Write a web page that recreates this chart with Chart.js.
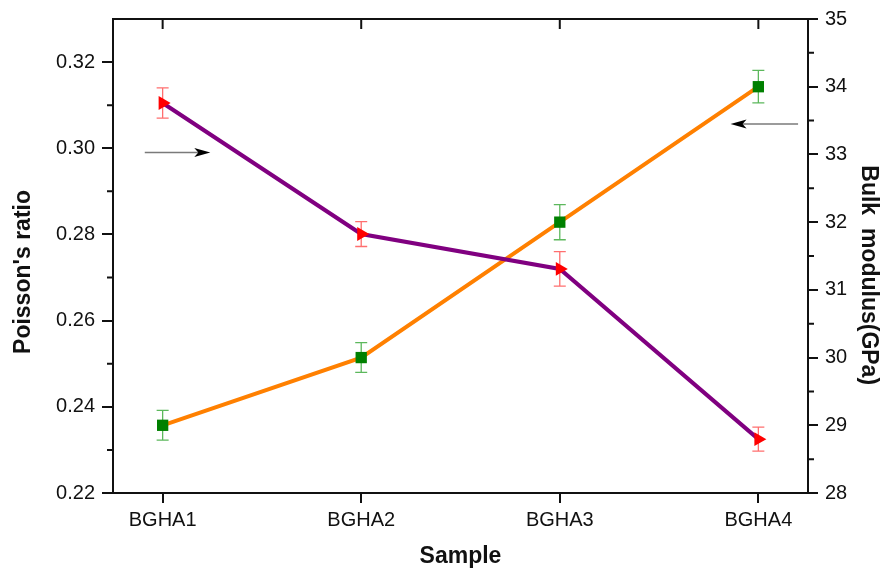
<!DOCTYPE html>
<html>
<head>
<meta charset="utf-8">
<script src="https://cdn.jsdelivr.net/npm/chart.js@4.4.1/dist/chart.umd.min.js"></script>
<style>
  html, body { margin: 0; padding: 0; background: #fff; }
  #c { display: block; }
</style>
</head>
<body>
<canvas id="c" width="890" height="571"></canvas>
<script>
// values
const samples = ['BGHA1', 'BGHA2', 'BGHA3', 'BGHA4'];
const poissonRatio = [0.3105, 0.2801, 0.2720, 0.2325];
const poissonErr = [0.0035, 0.0029, 0.0040, 0.0028];
const bulkModulus = [29.0, 30.0, 32.0, 34.0];
const bulkErr = [0.22, 0.22, 0.26, 0.24];
const poissonTicks = [0.22, 0.24, 0.26, 0.28, 0.30, 0.32];
const bulkTicks = [28, 29, 30, 31, 32, 33, 34, 35];

// the two arrows telling which curve goes with which axis
const arrowNotes = [
  { axis: 'y', value: 0.299, from: 0.91, to: 1.24 },
  { axis: 'y1', value: 33.45, from: 4.20, to: 3.86 }
];

const FONT = "'Liberation Sans', Arial, sans-serif";

function points(vals) {
  return vals.map((v, i) => ({ x: i + 1, y: v }));
}

const framePlugin = {
  id: 'frame',
  beforeDatasetsDraw(chart) {
    const ctx = chart.ctx;
    const x = chart.scales.x;
    // error bars sit under the markers
    const bars = [
      { axis: chart.scales.y, vals: poissonRatio, err: poissonErr, color: '#ff6f6f' },
      { axis: chart.scales.y1, vals: bulkModulus, err: bulkErr, color: '#5cb85c' }
    ];
    ctx.save();
    ctx.lineWidth = 1.3;
    bars.forEach(b => {
      ctx.strokeStyle = b.color;
      b.vals.forEach((v, i) => {
        const px = x.getPixelForValue(i + 1);
        const top = b.axis.getPixelForValue(v + b.err[i]);
        const bot = b.axis.getPixelForValue(v - b.err[i]);
        ctx.beginPath();
        ctx.moveTo(px, top); ctx.lineTo(px, bot);
        ctx.moveTo(px - 6, top); ctx.lineTo(px + 6, top);
        ctx.moveTo(px - 6, bot); ctx.lineTo(px + 6, bot);
        ctx.stroke();
      });
    });
    ctx.restore();
  },
  afterDraw(chart) {
    const ctx = chart.ctx;
    const a = chart.chartArea;
    const x = chart.scales.x, y = chart.scales.y, y1 = chart.scales.y1;
    ctx.save();
    ctx.strokeStyle = '#111';
    ctx.lineWidth = 2;
    ctx.strokeRect(a.left, a.top, a.right - a.left, a.bottom - a.top);

    ctx.beginPath();
    // minor ticks, halfway between labelled ones
    for (let i = 0; i < poissonTicks.length; i++) {
      const py = y.getPixelForValue(poissonTicks[i] + 0.01);
      if (py > a.top + 1) { ctx.moveTo(a.left - 6, py); ctx.lineTo(a.left, py); }
    }
    for (let i = 0; i < bulkTicks.length - 1; i++) {
      const py = y1.getPixelForValue(bulkTicks[i] + 0.5);
      ctx.moveTo(a.right, py); ctx.lineTo(a.right + 6, py);
    }
    // ticks on the top edge, pointing inward
    samples.forEach((s, i) => {
      const px = x.getPixelForValue(i + 1);
      ctx.moveTo(px, a.top); ctx.lineTo(px, a.top + 10);
    });
    ctx.stroke();

    // arrows
    arrowNotes.forEach(n => {
      const py = chart.scales[n.axis].getPixelForValue(n.value);
      const x0 = x.getPixelForValue(n.from);
      const x1 = x.getPixelForValue(n.to);
      const dir = x1 > x0 ? 1 : -1;
      ctx.strokeStyle = '#7a7a7a';
      ctx.lineWidth = 1.5;
      ctx.beginPath();
      ctx.moveTo(x0, py); ctx.lineTo(x1 - dir * 10, py);
      ctx.stroke();
      ctx.fillStyle = '#000';
      ctx.beginPath();
      ctx.moveTo(x1, py);
      ctx.lineTo(x1 - dir * 16, py - 4.5);
      ctx.lineTo(x1 - dir * 12, py);
      ctx.lineTo(x1 - dir * 16, py + 4.5);
      ctx.closePath();
      ctx.fill();
    });
    ctx.restore();
  }
};

const tickFont = { family: FONT, size: 20 };
const titleFont = { family: FONT, size: 23, weight: 'bold' };

new Chart(document.getElementById('c'), {
  type: 'line',
  data: {
    datasets: [
      {
        label: "Poisson's ratio",
        data: points(poissonRatio),
        yAxisID: 'y',
        borderColor: '#800080',
        borderWidth: 4,
        pointStyle: 'triangle',
        pointRotation: 90,
        pointRadius: 8,
        pointBackgroundColor: '#ff0000',
        pointBorderWidth: 0,
        tension: 0
      },
      {
        label: 'Bulk modulus',
        data: points(bulkModulus),
        yAxisID: 'y1',
        borderColor: '#ff8000',
        borderWidth: 4,
        pointStyle: 'rect',
        pointRadius: 8,
        pointBackgroundColor: '#008000',
        pointBorderWidth: 0,
        tension: 0
      }
    ]
  },
  options: {
    responsive: false,
    animation: false,
    devicePixelRatio: 1,
    layout: { padding: { top: 19, left: 0, right: 0, bottom: 0 } },
    plugins: { legend: { display: false }, tooltip: { enabled: false } },
    scales: {
      x: {
        type: 'linear',
        min: 0.75,
        max: 4.25,
        afterBuildTicks: s => { s.ticks = samples.map((n, i) => ({ value: i + 1 })); },
        afterFit: s => { s.height = 78; },
        ticks: {
          font: tickFont, color: '#111', padding: 5,
          callback: v => samples[v - 1]
        },
        grid: { drawOnChartArea: false, drawTicks: true, tickLength: 10, color: '#111', lineWidth: 2 },
        border: { display: false },
        title: { display: true, text: 'Sample', font: titleFont, color: '#111', padding: { top: 0, bottom: 1 } }
      },
      y: {
        position: 'left',
        min: 0.22,
        max: 0.33,
        afterBuildTicks: s => { s.ticks = poissonTicks.map(v => ({ value: v })); },
        afterFit: s => { s.width = 113; },
        ticks: {
          font: tickFont, color: '#111', padding: 7,
          callback: v => v.toFixed(2)
        },
        grid: { drawOnChartArea: false, drawTicks: true, tickLength: 11, color: '#111', lineWidth: 2 },
        border: { display: false },
        // trailing spaces push the rotated title a little down, as in the original
        title: { display: true, text: "Poisson's ratio     ", font: titleFont, color: '#111', padding: { top: 10, bottom: 0 } }
      },
      y1: {
        position: 'right',
        min: 28,
        max: 35,
        afterBuildTicks: s => { s.ticks = bulkTicks.map(v => ({ value: v })); },
        afterFit: s => { s.width = 82; },
        ticks: { font: tickFont, color: '#111', padding: 7 },
        grid: { drawOnChartArea: false, drawTicks: true, tickLength: 10, color: '#111', lineWidth: 2 },
        border: { display: false },
        title: { display: true, text: '      Bulk  modulus(GPa)', font: titleFont, color: '#111', padding: { top: 8, bottom: 0 } }
      }
    }
  },
  plugins: [framePlugin]
});
</script>
</body>
</html>
